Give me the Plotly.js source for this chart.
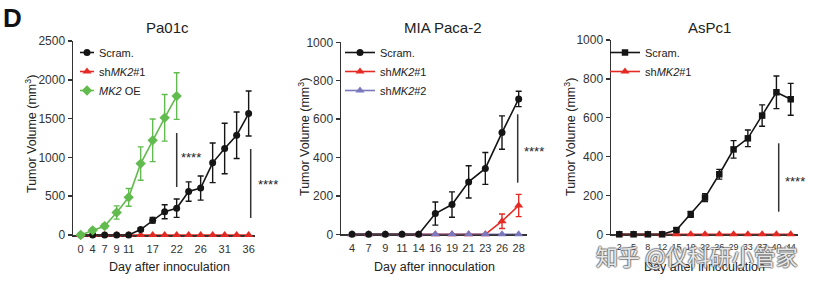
<!DOCTYPE html>
<html><head><meta charset="utf-8">
<script src="https://cdn.plot.ly/plotly-3.0.1.min.js"></script>
<style>html,body{margin:0;padding:0;background:#fff}#gd{width:831px;height:290px}</style>
</head><body><div id="gd"></div>
<script>
// ---------- data ----------
// Pa01c
const days1 = ['0','4','7','9','11','14','17','19','22','24','26','29','31','34','36'];
const ticks1 = ['0','4','7','9','11','17','22','26','31','36'];
const scram1 = [0,0,0,0,0,70,190,300,345,560,605,930,1115,1285,1565];
const scram1Err = [0,0,0,0,0,20,35,90,118,125,155,255,325,300,290];
const sh1 = [0,0,0,0,0,0,0,0,0,0,0,0,0,0,0];
const oe1Days = ['0','4','7','9','11','14','17','19','22'];
const oe1 = [0,60,115,290,485,920,1220,1510,1790];
const oe1Err = [15,25,30,85,115,215,275,300,300];
// MIA Paca-2
const days2 = ['4','7','9','11','14','16','19','21','23','26','28'];
const scram2 = [0,0,0,0,0,108,155,273,343,530,705];
const scram2Err = [0,0,0,0,0,60,66,84,83,87,40];
const sh2a = [0,0,0,0,0,0,0,0,0,68,150];
const sh2aErr = [0,0,0,0,0,0,0,0,0,38,58];
const sh2b = [0,0,0,0,0,0,0,0,0,0,0];
// AsPc1
const days3 = ['2','5','8','12','15','19','22','26','29','33','37','40','44'];
const scram3 = [0,0,0,0,22,103,189,309,437,494,611,731,695];
const scram3Err = [0,0,0,0,10,15,20,25,45,43,55,84,82];
const sh3 = [0,0,0,0,0,0,0,0,0,0,0,0,0];

const titles = ['Pa01c','MIA Paca-2','AsPc1'];
const yTitle = 'Tumor Volume (mm<sup>3</sup>)';
const xTitle = 'Day after innoculation';
const sig = '****';

// ---------- styling ----------
const W = 831, H = 290;
const px = x => x / W, py = y => 1 - y / H;
const FONT = 'Liberation Sans, Arial, Helvetica, sans-serif';
const BLACK = '#151515', RED = '#e52a24', GREEN = '#62bb4e', PURPLE = '#7a78bf', AX = '#333';

function err(arr, color){ return {type:'data', array:arr, visible:true, color:color, thickness:1.4, width:3}; }
function tr(x, y, e, name, color, symbol, xa, ya, leg, rank, size){
  return {type:'scatter', mode:'lines+markers', x:x, y:y, name:name,
    xaxis:xa, yaxis:ya, legend:leg, legendrank:rank, cliponaxis:false,
    line:{color:color, width:1.6},
    marker:{color:color, symbol:symbol, size:size||7, line:{width:0}},
    error_y: e ? err(e, color) : undefined};
}

const data = [
  tr(days1, sh1, null, 'sh<i>MK2</i>#1', RED, 'triangle-up', 'x', 'y', 'legend', 2, 8),
  tr(days1, scram1, scram1Err, 'Scram.', BLACK, 'circle', 'x', 'y', 'legend', 1, 7),
  tr(oe1Days, oe1, oe1Err, '<i>MK2</i> OE', GREEN, 'diamond', 'x', 'y', 'legend', 3, 8),

  tr(days2, sh2a, sh2aErr, 'sh<i>MK2</i>#1', RED, 'triangle-up', 'x2', 'y2', 'legend2', 2, 8),
  tr(days2, sh2b, null, 'sh<i>MK2</i>#2', PURPLE, 'triangle-up', 'x2', 'y2', 'legend2', 3, 8),
  tr(days2, scram2, scram2Err, 'Scram.', BLACK, 'circle', 'x2', 'y2', 'legend2', 1, 7),

  tr(days3, sh3, null, 'sh<i>MK2</i>#1', RED, 'triangle-up', 'x3', 'y3', 'legend3', 2, 8),
  tr(days3, scram3, scram3Err, 'Scram.', BLACK, 'square', 'x3', 'y3', 'legend3', 1, 6.5)
];

function xax(dom, cats, rng, tv, fs){
  return {domain:[px(dom[0]), px(dom[1])], type:'category', categoryorder:'array', categoryarray:cats,
    range:rng, showline:true, linecolor:AX, linewidth:1.5, ticks:'', tickvals:tv, ticklabelstandoff:3,
    layer:'below traces',
    tickfont:{family:FONT, size:fs||11, color:AX}, showgrid:false, zeroline:false, fixedrange:true};
}
function yax(dom, max, dt, anchor){
  return {domain:[py(dom[1]), py(dom[0])], range:[0,max], dtick:dt, anchor:anchor,
    showline:true, linecolor:AX, linewidth:1.5, ticks:'outside', ticklen:4, tickwidth:1.5, tickcolor:AX,
    layer:'below traces',
    tickfont:{family:FONT, size:12, color:AX}, showgrid:false, zeroline:false, fixedrange:true};
}
function legendAt(x, y){
  return {x:px(x), y:py(y), xanchor:'left', yanchor:'top', bgcolor:'rgba(0,0,0,0)', borderwidth:0,
    font:{family:FONT, size:11, color:'#222'}, traceorder:'normal', itemclick:false};
}

const ann = [];
function txt(t, x, y, size, opts){
  ann.push(Object.assign({text:t, x:px(x), y:py(y), xref:'paper', yref:'paper', showarrow:false,
    xanchor:'center', yanchor:'middle', font:{family:FONT, size:size, color:'#222'}}, opts||{}));
}
txt('<b>D</b>', 12, 18, 26, {font:{family:FONT, size:26, color:'#111'}});
txt(titles[0], 167, 28, 15);
txt(titles[1], 443, 28, 15);
txt(titles[2], 709, 28, 15);
txt(xTitle, 169, 267, 12.5);
txt(xTitle, 434, 267, 12.5);
txt(xTitle, 704, 267, 12.5);
txt(yTitle, 31, 134, 12.5, {textangle:-90});
txt(yTitle, 304, 137, 12.5, {textangle:-90});
txt(yTitle, 570, 137, 12.5, {textangle:-90});
txt(sig, 191, 157, 13);
txt(sig, 268, 184, 13);
txt(sig, 534, 151, 13);
txt(sig, 795, 181, 13);
// watermark
ann.push({text:'知乎 @仪科研小管家', x:px(697), y:py(255), xref:'paper', yref:'paper', showarrow:false,
  xanchor:'center', yanchor:'middle',
  font:{family:'Noto Sans CJK SC', size:22, color:'rgba(255,255,255,0.85)',
        shadow:'1px 0 1px rgba(90,90,90,0.8), -1px 0 1px rgba(90,90,90,0.8), 0 1px 1px rgba(90,90,90,0.8), 0 -1px 1px rgba(90,90,90,0.8)'}});

function vline(x, y0, y1){
  return {type:'line', xref:'paper', yref:'paper', x0:px(x), x1:px(x), y0:py(y0), y1:py(y1),
    line:{color:AX, width:1.5}};
}

const layout = {
  width:W, height:H, margin:{l:0,r:0,t:0,b:0}, paper_bgcolor:'#fff', plot_bgcolor:'rgba(0,0,0,0)',
  showlegend:true, font:{family:FONT},
  xaxis: xax([73,255], days1, [-0.64,14.53], ticks1),
  yaxis: yax([41,235], 2500, 500, 'x'),
  xaxis2: xax([341,527], days2, [-0.66,10.5], days2),
  yaxis2: yax([42.3,234.3], 1000, 200, 'x2'),
  xaxis3: xax([611,798], days3, [-0.58,12.51], days3, 9),
  yaxis3: yax([40,234.3], 1000, 200, 'x3'),
  legend: legendAt(67, 38),
  legend2: legendAt(340, 38),
  legend3: legendAt(605, 38),
  annotations: ann,
  shapes: [vline(176.7,133,187), vline(250.7,149,218), vline(517.7,114.3,182.7), vline(778.7,143.3,211.7)]
};
layout.xaxis.anchor='y'; layout.xaxis2.anchor='y2'; layout.xaxis3.anchor='y3';

const gd = document.getElementById('gd');
Plotly.newPlot(gd, data, layout, {staticPlot:true, displayModeBar:false}).then(function(){
  gd.querySelectorAll('.legend .traces').forEach(function(t){
    t.querySelectorAll('.legendlines path').forEach(function(p){ p.setAttribute('d','M13,0h14'); });
    const tx = t.querySelector('.legendtext');
    if (tx) tx.setAttribute('x', 32);
  });
});
</script></body></html>
